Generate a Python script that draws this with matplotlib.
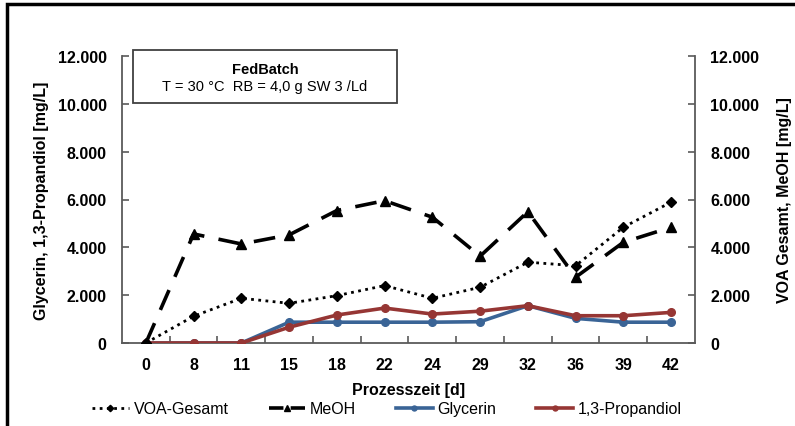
import matplotlib
matplotlib.use("Agg")
import matplotlib.pyplot as plt
from matplotlib.patches import Rectangle
from matplotlib.ticker import FuncFormatter, FixedLocator

plt.rcParams['font.family'] = ['Liberation Sans', 'DejaVu Sans']

days = ["0", "8", "11", "15", "18", "22", "24", "29", "32", "36", "39", "42"]
voa = [0, 1120, 1870, 1660, 1980, 2400, 1870, 2330, 3380, 3230, 4840, 5890]
meoh = [0, 4560, 4140, 4520, 5540, 5950, 5260, 3630, 5490, 2750, 4210, 4840]
glycerin = [0, 0, 0, 870, 870, 870, 870, 890, 1560, 1030, 870, 870]
propandiol = [0, 0, 0, 660, 1170, 1460, 1210, 1330, 1560, 1140, 1140, 1280]

yticks = [0, 2000, 4000, 6000, 8000, 10000, 12000]

W, H = 795, 427
FS = 11.5
fig = plt.figure(figsize=(W / 100, H / 100), dpi=100)
ax = fig.add_axes([122 / W, 1 - 344 / H, (695 - 122) / W, (344 - 57) / H])
ax2 = ax.twinx()

x = list(range(len(days)))
blue = '#3a6496'
red = '#963634'

l3, = ax.plot(x, glycerin, color=blue, lw=2.6, marker='o', ms=5.5, zorder=3, label='Glycerin')
l4, = ax.plot(x, propandiol, color=red, lw=2.6, marker='o', ms=5.5, zorder=4, label='1,3-Propandiol')
l1, = ax2.plot(x, voa, color='black', lw=2.0, ls=(0, (1, 1.6)), marker='D', ms=5, zorder=3, label='VOA-Gesamt')
l2, = ax2.plot(x, meoh, color='black', lw=2.6, ls=(0, (6, 4)), marker='^', ms=7.5, zorder=3, label='MeOH')

for a in (ax, ax2):
    a.set_ylim(0, 12000)
    a.set_xlim(-0.5, len(days) - 0.5)
    a.set_yticks(yticks)
    a.yaxis.set_major_formatter(FuncFormatter(lambda v, p: f"{int(v):,}".replace(',', '.')))
    for s in a.spines.values():
        s.set_color('#5a5a5a')
        s.set_linewidth(1.3)
    a.spines['top'].set_visible(False)
    a.patch.set_visible(False)

ax.spines['right'].set_visible(False)
ax2.spines['left'].set_visible(False)
ax2.spines['bottom'].set_visible(False)

ax.set_xticks(x)
ax.set_xticklabels(days)
ax.xaxis.set_minor_locator(FixedLocator([i + 0.5 for i in range(len(days) - 1)]))
ax.tick_params(axis='x', which='major', length=0, pad=10)
ax.tick_params(axis='x', which='minor', direction='in', length=5, color='#5a5a5a', width=1.2)
ax.tick_params(axis='y', direction='in', length=5, color='#5a5a5a', width=1.2, pad=11)
ax2.tick_params(axis='y', direction='in', length=5, color='#5a5a5a', width=1.2, pad=11)

for lab in ax.get_xticklabels() + ax.get_yticklabels() + ax2.get_yticklabels():
    lab.set_fontweight('bold')
    lab.set_fontsize(FS)

ax.set_xlabel('Prozesszeit [d]', fontsize=FS, fontweight='bold', labelpad=7)
ax.set_ylabel('Glycerin, 1,3-Propandiol [mg/L]', fontsize=FS, fontweight='bold', labelpad=6)
ax2.set_ylabel('VOA Gesamt, MeOH [mg/L]', fontsize=FS, fontweight='bold', labelpad=13)

# info box
bx0, by0, bx1, by1 = 133, 51, 397, 104
fig.patches.append(Rectangle((bx0 / W, 1 - by1 / H), (bx1 - bx0) / W, (by1 - by0) / H,
                             transform=fig.transFigure, fill=True, facecolor='white',
                             edgecolor='#404040', lw=1.3))
fig.text((bx0 + bx1) / 2 / W, 1 - 70 / H, 'FedBatch', ha='center', va='center',
         fontsize=10.5, fontweight='bold')
fig.text((bx0 + bx1) / 2 / W, 1 - 87 / H, 'T = 30 °C  RB = 4,0 g SW 3 /Ld', ha='center',
         va='center', fontsize=10.5)

leg = fig.legend([l1, l2, l3, l4], ['VOA-Gesamt', 'MeOH', 'Glycerin', '1,3-Propandiol'],
                 loc='center', bbox_to_anchor=(387 / W, 1 - 410 / H), ncol=4, frameon=False,
                 fontsize=FS, handlelength=2.3, columnspacing=2.5, handletextpad=0.3,
                 markerscale=0.65)
leg.get_lines()[1].set_linestyle((0, (4, 2)))

# outer frame
fig.patches.append(Rectangle((7 / W, -0.05), 1.2, 1 - 5 / H + 0.05, transform=fig.transFigure,
                             fill=False, edgecolor='black', lw=2.5))

fig.savefig('out.png', dpi=100)
